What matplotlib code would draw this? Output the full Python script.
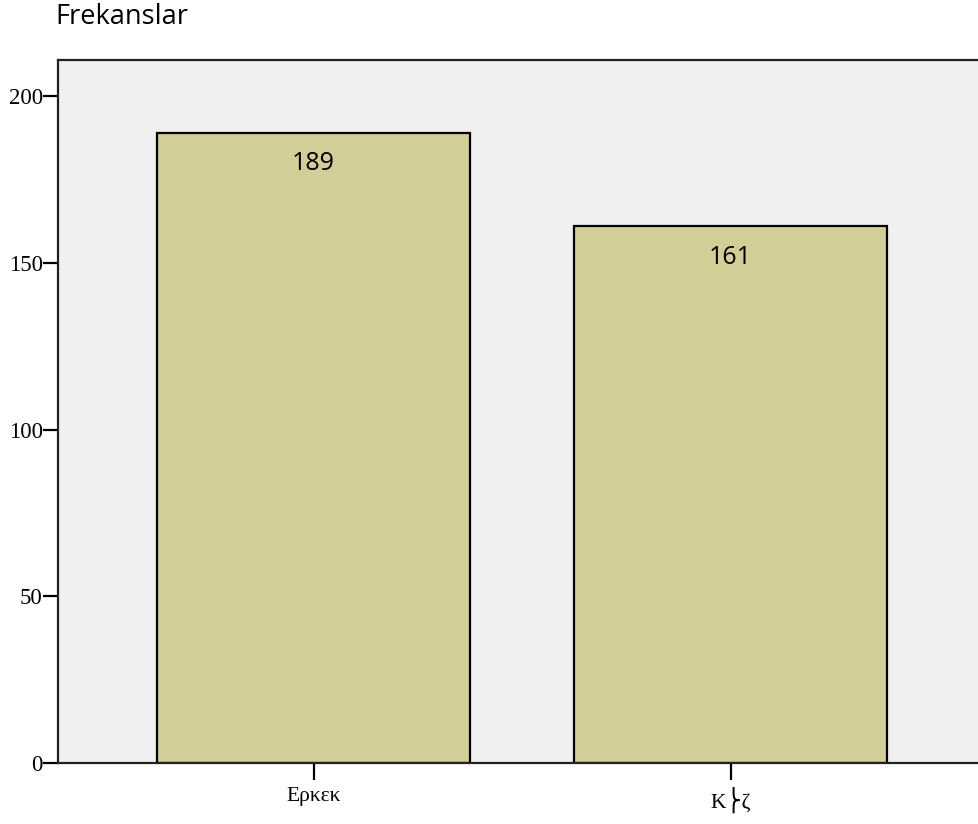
import matplotlib
matplotlib.use("Agg")
import matplotlib.pyplot as plt

categories = ["Ερκεκ", "Κ⎬ζ"]
counts = [189, 161]
yticks = [0, 50, 100, 150, 200]

fig = plt.figure(figsize=(9.79, 8.24), dpi=100)
W, H = 979, 824
ax = fig.add_axes([58 / W, 1 - 763 / H, (W - 58) / W, (763 - 60) / H])
ax.set_facecolor("#f0f0f0")

x = list(range(len(categories)))
bars = ax.bar(x, counts, width=0.75, color="#d3ce98", edgecolor="black", linewidth=1.6, zorder=2)

for xi, v in zip(x, counts):
    ax.annotate(str(v), (xi, v), xytext=(0, -31), textcoords="offset pixels",
                ha="center", va="center", fontsize=18, family=["Open Sans", "DejaVu Sans"])

ax.set_xlim(-0.613, 1.596)
ax.set_ylim(0, 210.8)
ax.set_yticks(yticks)
ax.set_yticklabels([str(t) for t in yticks], family=["Liberation Serif", "DejaVu Serif"], fontsize=16.5)
ax.set_xticks(x)
ax.set_xticklabels(categories, family=["Liberation Serif", "DejaVu Serif", "DejaVu Sans"], fontsize=15.5)

ax.tick_params(axis="y", direction="out", length=11, width=1.6, pad=0)
ax.tick_params(axis="x", direction="out", length=12, width=1.6, pad=5)
for s in ["left", "top", "bottom"]:
    ax.spines[s].set_linewidth(1.6)
    ax.spines[s].set_color("#222222")
ax.spines["right"].set_visible(False)

fig.text(55 / W, 1 - 17 / H, "Frekanslar", ha="left", va="center", fontsize=19.5,
         family=["Open Sans", "DejaVu Sans"])

fig.savefig("out.png", dpi=100)
